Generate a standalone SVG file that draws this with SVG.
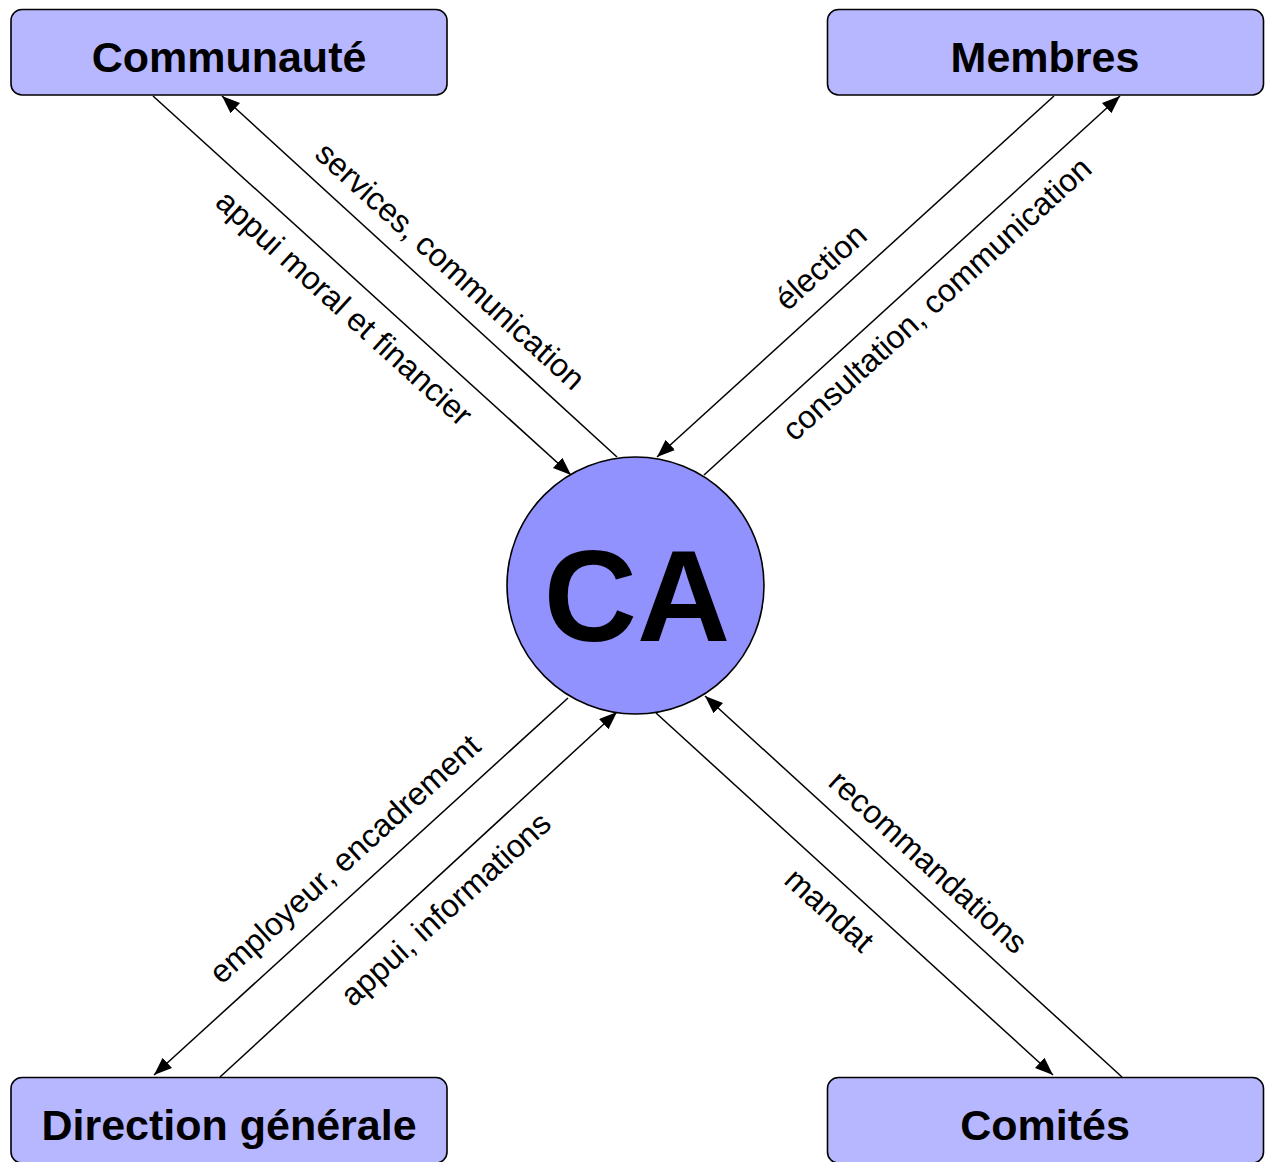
<svg xmlns="http://www.w3.org/2000/svg" width="1265" height="1162" viewBox="0 0 1265 1162">
<style>
.box{fill:#b7b7ff;stroke:#000;stroke-width:1.6}
.circ{fill:#9292ff;stroke:#000;stroke-width:1.6}
.title{font-family:"Liberation Sans",Arial,sans-serif;font-weight:bold;font-size:43px;text-anchor:middle;fill:#000}
.ca{font-family:"Liberation Sans",Arial,sans-serif;font-weight:bold;font-size:129px;text-anchor:middle;fill:#000}
.lbl{font-family:"Liberation Sans",Arial,sans-serif;font-size:32px;text-anchor:middle;fill:#000}
.conn{stroke:#000;stroke-width:1.5;fill:none;marker-end:url(#arr)}
</style>
<defs>
<marker id="arr" markerUnits="userSpaceOnUse" markerWidth="19" markerHeight="15" refX="18" refY="7" orient="auto">
<path d="M0,0 L18,7 L0,14 Z" fill="#000"/>
</marker>
</defs>
<rect width="1265" height="1162" fill="#fff"/>
<g id="connectors">
<line class="conn" x1="153" y1="96" x2="571" y2="475"/>
<line class="conn" x1="617" y1="457" x2="222" y2="96"/>
<line class="conn" x1="1054" y1="96" x2="657" y2="457"/>
<line class="conn" x1="704" y1="475" x2="1120" y2="96"/>
<line class="conn" x1="568" y1="698" x2="154" y2="1075"/>
<line class="conn" x1="220" y1="1077" x2="617" y2="712"/>
<line class="conn" x1="656" y1="713" x2="1053" y2="1075"/>
<line class="conn" x1="1122" y1="1077" x2="705" y2="696"/>
</g>
<g id="labels">
<text class="lbl" transform="translate(443,274) rotate(42.2)">services, communication</text>
<text class="lbl" transform="translate(337,316) rotate(42.2)">appui moral et financier</text>
<text class="lbl" transform="translate(828,275) rotate(-42.2)">élection</text>
<text class="lbl" transform="translate(944,307) rotate(-42.2)">consultation, communication</text>
<text class="lbl" transform="translate(352,867) rotate(-42.2)">employeur, encadrement</text>
<text class="lbl" transform="translate(453,917) rotate(-42.2)">appui, informations</text>
<text class="lbl" transform="translate(822,918) rotate(42.2)">mandat</text>
<text class="lbl" transform="translate(921,870) rotate(42.2)">recommandations</text>
</g>
<g id="node-communaute">
<rect class="box" x="11" y="9.5" width="436" height="85.5" rx="11"/>
<text class="title" x="229" y="72">Communauté</text>
</g>
<g id="node-membres">
<rect class="box" x="827.5" y="9.5" width="436" height="85.5" rx="11"/>
<text class="title" x="1045" y="72">Membres</text>
</g>
<g id="node-direction">
<rect class="box" x="11" y="1077.5" width="436" height="85.5" rx="11"/>
<text class="title" x="229" y="1140">Direction générale</text>
</g>
<g id="node-comites">
<rect class="box" x="827.5" y="1077.5" width="436" height="85.5" rx="11"/>
<text class="title" x="1045" y="1140">Comités</text>
</g>
<g id="node-ca">
<circle class="circ" cx="635.5" cy="585.5" r="128.5"/>
<text class="ca" x="637" y="641">CA</text>
</g>
</svg>
